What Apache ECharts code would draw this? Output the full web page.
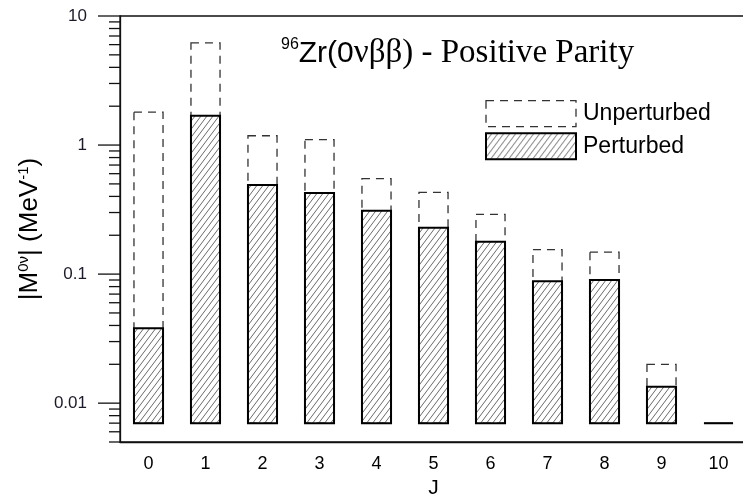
<!DOCTYPE html>
<html>
<head>
<meta charset="utf-8">
<script src="https://cdn.jsdelivr.net/npm/echarts@6/dist/echarts.min.js"></script>
<style>
  html, body { margin: 0; padding: 0; background: #fff; }
  #chart { width: 743px; height: 497px; }
</style>
</head>
<body>
<div id="chart"></div>
<script>
// Multipole angular momentum J of the intermediate states
const categories = ['0', '1', '2', '3', '4', '5', '6', '7', '8', '9', '10'];
// |M^0v| contributions (MeV^-1), positive parity
const unperturbed = [1.80, 6.2, 1.18, 1.10, 0.55, 0.43, 0.29, 0.155, 0.148, 0.020, 0.007];
const perturbed   = [0.038, 1.69, 0.49, 0.425, 0.31, 0.229, 0.178, 0.088, 0.090, 0.0134, 0.007];
// Bars rise from this floor value on the log axis
const barBase = 0.007;
// Y axis range and labelled decades
const yMin = 0.005, yMax = 10;
const yLabels = [0.01, 0.1, 1, 10];
// Minor tick values between the decades
const minorTicks = [0.005, 0.006, 0.007, 0.008, 0.009,
  0.02, 0.03, 0.04, 0.05, 0.06, 0.07, 0.08, 0.09,
  0.2, 0.3, 0.4, 0.5, 0.6, 0.7, 0.8, 0.9,
  2, 3, 4, 5, 6, 7, 8, 9];

// Diagonal hatch tile for the perturbed bars
function makeHatch() {
  const c = document.createElement('canvas');
  c.width = 6; c.height = 8;
  const g = c.getContext('2d');
  g.strokeStyle = '#6a6a6a';
  g.lineWidth = 1;
  g.beginPath();
  g.moveTo(-1.5, 10); g.lineTo(7.5, -2);
  g.moveTo(-7.5, 10); g.lineTo(1.5, -2);
  g.moveTo(4.5, 10); g.lineTo(13.5, -2);
  g.stroke();
  return c;
}
const hatch = { image: makeHatch(), repeat: 'repeat' };

function barRenderer(kind) {
  return function (params, api) {
    const j = api.value(0), v = api.value(1);
    const top = api.coord([j, v]);
    const bot = api.coord([j, barBase]);
    const w = api.size([1, 1])[0] * 0.51;
    const shape = { x: top[0] - w / 2, y: top[1], width: w, height: bot[1] - top[1] };
    if (kind === 'dash') {
      return { type: 'rect', shape, style: { fill: null, stroke: '#333', lineWidth: 1.3, lineDash: [8, 6] } };
    }
    return { type: 'rect', shape, style: { fill: hatch, stroke: '#000', lineWidth: 2 } };
  };
}

const chart = echarts.init(document.getElementById('chart'), null, { renderer: 'canvas' });
const axisFont = 'Liberation Sans, Arial, sans-serif';
const serifFont = 'Liberation Serif, Times New Roman, serif';

chart.setOption({
  backgroundColor: '#fff',
  animation: false,
  title: {
    left: 281, top: 37,
    padding: 0,
    text: '{sup|96}{a|Zr(0}{b|νββ) - Positive Parity}',
    textStyle: {
      rich: {
        sup: { fontFamily: axisFont, fontSize: 16, fontWeight: 'normal', color: '#000', verticalAlign: 'top', padding: [0, 0, 16, 0] },
        a: { fontFamily: axisFont, fontSize: 30, fontWeight: 'normal', color: '#000' },
        b: { fontFamily: serifFont, fontSize: 33, fontWeight: 'normal', color: '#000' }
      }
    }
  },
  legend: {
    orient: 'vertical',
    left: 485, top: 100,
    padding: 0,
    itemWidth: 90, itemHeight: 26, itemGap: 5,
    textStyle: { fontFamily: axisFont, fontSize: 23, color: '#000', padding: [0, 0, 0, 2] },
    data: [
      { name: 'Unperturbed', icon: 'rect', itemStyle: { color: 'rgba(0,0,0,0)', borderColor: '#333', borderWidth: 1.3, borderType: [8, 6] } },
      { name: 'Perturbed', icon: 'rect', itemStyle: { color: hatch, borderColor: '#000', borderWidth: 2 } }
    ]
  },
  grid: {
    left: 120, top: 16, width: 627, height: 426,
    outerBoundsMode: 'none',
    containLabel: false,
    show: true, borderColor: '#111', borderWidth: 1.3, backgroundColor: 'transparent'
  },
  xAxis: {
    type: 'category',
    data: categories,
    name: 'J',
    nameLocation: 'middle',
    nameGap: 36,
    nameTextStyle: { fontFamily: axisFont, fontSize: 21, color: '#000' },
    axisLine: { show: true, lineStyle: { color: '#111', width: 1.3 } },
    axisTick: { show: false },
    axisLabel: { fontFamily: axisFont, fontSize: 18, color: '#000', margin: 13 },
    splitLine: { show: false }
  },
  yAxis: {
    type: 'log',
    logBase: 10,
    min: yMin, max: yMax,
    name: '{a||M}{s|0ν}{a|| (MeV}{s|-1}{a|)}',
    nameLocation: 'middle',
    nameRotate: 90,
    nameGap: 67,
    nameTextStyle: {
      rich: {
        a: { fontFamily: axisFont, fontSize: 26, color: '#000' },
        s: { fontFamily: axisFont, fontSize: 15, color: '#000', verticalAlign: 'top', padding: [0, 0, 12, 0] }
      }
    },
    axisLine: { show: true, lineStyle: { color: '#111', width: 1.3 } },
    axisTick: { show: false },
    axisLabel: {
      customValues: yLabels,
      fontFamily: axisFont, fontSize: 17, color: '#1a1a2a', margin: 33,
      formatter: v => String(Math.round(v * 1000) / 1000)
    },
    splitLine: { show: false },
    minorTick: { show: false },
    minorSplitLine: { show: false }
  },
  series: [
    {
      name: 'Unperturbed',
      type: 'custom',
      renderItem: barRenderer('dash'),
      itemStyle: { color: 'rgba(0,0,0,0)', borderColor: '#333' },
      data: unperturbed.map((v, i) => [i, v]),
      z: 2
    },
    {
      name: 'Perturbed',
      type: 'custom',
      renderItem: barRenderer('hatch'),
      itemStyle: { color: hatch, borderColor: '#000' },
      data: perturbed.map((v, i) => [i, v]),
      z: 3
    },
    {
      // Outward tick marks on the log axis: long at decades, short in between
      name: 'ticks',
      type: 'custom',
      silent: true,
      clip: false,
      renderItem: function (params, api) {
        const v = api.value(0), major = api.value(1);
        const y = api.coord([0, v])[1];
        const x0 = params.coordSys.x;
        const len = major ? 22 : 11;
        return { type: 'line', shape: { x1: x0 - len, y1: y, x2: x0, y2: y }, style: { stroke: '#111', lineWidth: 1.3 } };
      },
      data: minorTicks.map(v => [v, 0]).concat(yLabels.map(v => [v, 1])),
      encode: { y: 0 },
      z: 1
    }
  ]
});
</script>
</body>
</html>
